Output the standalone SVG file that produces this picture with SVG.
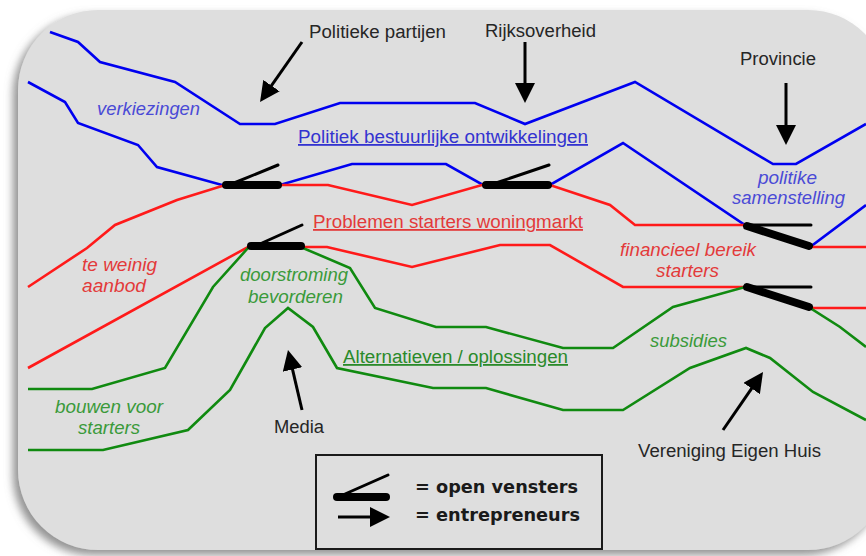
<svg xmlns="http://www.w3.org/2000/svg" width="866" height="556" viewBox="0 0 866 556">
<defs>
<filter id="sh" x="-10%" y="-10%" width="120%" height="120%">
<feDropShadow dx="-5" dy="5" stdDeviation="4" flood-color="#777" flood-opacity="0.8"/>
</filter>
<marker id="ah" markerUnits="userSpaceOnUse" viewBox="0 0 20 20" refX="8" refY="10" markerWidth="20" markerHeight="20" orient="auto">
<path d="M0,0 L20,10 L0,20 z" fill="#000"/>
</marker>
<style>
.ln{fill:none;stroke-width:2.6;stroke-linejoin:miter}
.b{stroke:#0000f0}
.r{stroke:#ff1a1a}
.g{stroke:#108a10}
.bar{stroke:#000;stroke-width:8;stroke-linecap:round}
.thin{stroke:#000;stroke-width:3;stroke-linecap:round}
.arr{stroke:#000;stroke-width:3;marker-end:url(#ah)}
text{font-family:"Liberation Sans",Arial,sans-serif;font-size:18px}
.lab{fill:#262626}
.it{font-style:italic}
.tb{fill:#4a4ad6}
.tr{fill:#e33a3a}
.tg{fill:#3a9a3a}
.u{text-decoration:underline}
.lg{font-family:"DejaVu Sans",Verdana,sans-serif;font-weight:bold;font-size:17px;fill:#1a1a1a}
</style>
</defs>
<rect id="background" x="18" y="10" width="870" height="540" rx="80" ry="80" fill="#dedede" filter="url(#sh)"/>
<g id="connectors">
<polyline class="ln b" points="50,32 78,42 100,62 175,82 240,124 275,124 340,103 475,103 525,124 580,103 635,82 773,164 796,164 866,124"/>
<polyline class="ln b" points="28,82 65,102 78,123 138,145 157,167 222,185 280,185 352,164 446,164 483,185 550,185 623,143 745,225 810,247 866,205"/>
<polyline class="ln r" points="28,287 87,248 115,225 177,200 222,186 280,185 328,185 412,205 482,185 550,185 610,205 635,225 745,225 810,247 866,247"/>
<polyline class="ln r" points="28,368 248,247 303,247 327,247 412,267 500,245 550,245 623,287 745,287 810,308 866,308"/>
<polyline class="ln g" points="28,389 92,389 165,368 213,287 248,248 303,248 350,268 375,308 436,327 486,327 563,348 613,348 673,307 745,287 810,308 840,327 866,347"/>
<polyline class="ln g" points="28,450 103,450 188,430 230,390 247,360 265,328 288,308 313,327 337,368 433,388 486,388 563,410 623,410 690,368 746,348 770,358 813,392 866,420"/>
<line class="arr" x1="302" y1="42" x2="266.9" y2="92.2"/>
<line class="arr" x1="525" y1="42" x2="525" y2="91"/>
<line class="arr" x1="786" y1="83" x2="786" y2="133"/>
<line class="arr" x1="302" y1="410" x2="290.7" y2="361.7"/>
<line class="arr" x1="723" y1="430" x2="756.2" y2="381.9"/>
</g>
<g id="window1"><line class="bar" x1="226" y1="185" x2="278" y2="185"/><line class="thin" x1="234" y1="183" x2="278" y2="165"/></g>
<g id="window2"><line class="bar" x1="486" y1="185" x2="548" y2="185"/><line class="thin" x1="496" y1="183" x2="549" y2="165"/></g>
<g id="window3"><line class="bar" x1="251" y1="246" x2="301" y2="246"/><line class="thin" x1="262" y1="243" x2="302" y2="225"/></g>
<g id="window4"><line class="bar" x1="747" y1="226" x2="809" y2="246"/><line class="thin" x1="747" y1="225" x2="811" y2="225"/></g>
<g id="window5"><line class="bar" x1="747" y1="287" x2="809" y2="307"/><line class="thin" x1="747" y1="287" x2="811" y2="287"/></g>
<g id="label-politieke-partijen"><text class="lab" x="309" y="38" textLength="137" lengthAdjust="spacingAndGlyphs">Politieke partijen</text></g>
<g id="label-rijksoverheid"><text class="lab" x="485" y="37" textLength="111" lengthAdjust="spacingAndGlyphs">Rijksoverheid</text></g>
<g id="label-provincie"><text class="lab" x="740" y="65" textLength="76" lengthAdjust="spacingAndGlyphs">Provincie</text></g>
<g id="label-media"><text class="lab" x="274" y="433" textLength="50" lengthAdjust="spacingAndGlyphs">Media</text></g>
<g id="label-veh"><text class="lab" x="638" y="457" textLength="183" lengthAdjust="spacingAndGlyphs">Vereniging Eigen Huis</text></g>
<g id="label-verkiezingen"><text class="it tb" x="97" y="115" textLength="103" lengthAdjust="spacingAndGlyphs">verkiezingen</text></g>
<g id="label-politiek"><text class="tb u" x="298" y="143" textLength="290" lengthAdjust="spacingAndGlyphs" style="fill:#3333d0">Politiek bestuurlijke ontwikkelingen</text></g>
<g id="label-politike"><text class="it tb" x="758" y="184" textLength="59" lengthAdjust="spacingAndGlyphs">politike</text><text class="it tb" x="732" y="204" textLength="113" lengthAdjust="spacingAndGlyphs">samenstelling</text></g>
<g id="label-problemen"><text class="tr u" x="313" y="228" textLength="270" lengthAdjust="spacingAndGlyphs">Problemen starters woningmarkt</text></g>
<g id="label-te-weinig"><text class="it tr" x="82" y="271" textLength="75" lengthAdjust="spacingAndGlyphs">te weinig</text><text class="it tr" x="82" y="292" textLength="64" lengthAdjust="spacingAndGlyphs">aanbod</text></g>
<g id="label-financieel"><text class="it tr" x="620" y="256" textLength="136" lengthAdjust="spacingAndGlyphs">financieel bereik</text><text class="it tr" x="656" y="277" textLength="63" lengthAdjust="spacingAndGlyphs">starters</text></g>
<g id="label-doorstroming"><text class="it tg" x="240" y="281" textLength="108" lengthAdjust="spacingAndGlyphs">doorstroming</text><text class="it tg" x="248" y="303" textLength="95" lengthAdjust="spacingAndGlyphs">bevorderen</text></g>
<g id="label-alternatieven"><text class="tg u" x="343" y="363" textLength="225" lengthAdjust="spacingAndGlyphs" style="fill:#2a8a2a">Alternatieven / oplossingen</text></g>
<g id="label-subsidies"><text class="it tg" x="650" y="347" textLength="77" lengthAdjust="spacingAndGlyphs">subsidies</text></g>
<g id="label-bouwen"><text class="it tg" x="55" y="413" textLength="108" lengthAdjust="spacingAndGlyphs">bouwen voor</text><text class="it tg" x="78" y="434" textLength="62" lengthAdjust="spacingAndGlyphs">starters</text></g>
<g id="legend">
<rect x="316" y="455" width="286" height="94" fill="#dedede" stroke="#1a1a1a" stroke-width="2"/>
<line class="bar" x1="337" y1="497" x2="386" y2="497"/>
<line class="thin" x1="345" y1="494" x2="388" y2="475"/>
<line class="arr" x1="338" y1="517" x2="378" y2="517"/>
<text class="lg" x="415" y="493" textLength="163" lengthAdjust="spacingAndGlyphs">= open vensters</text>
<text class="lg" x="415" y="521" textLength="165" lengthAdjust="spacingAndGlyphs">= entrepreneurs</text>
</g>
</svg>
